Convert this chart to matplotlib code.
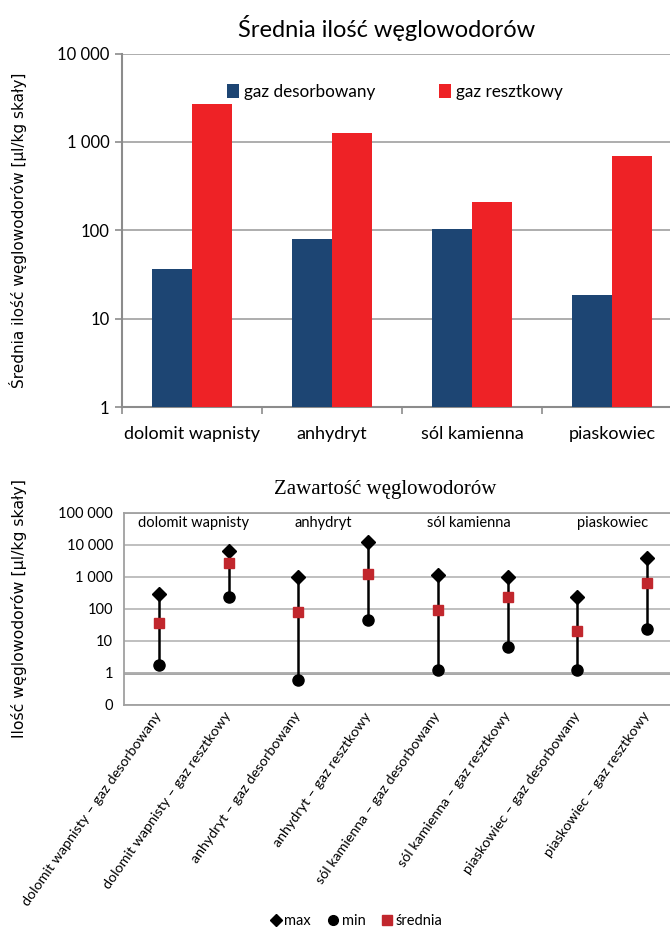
import numpy as np
import matplotlib
matplotlib.use("Agg")
import matplotlib.pyplot as plt
from matplotlib.ticker import FuncFormatter, FixedLocator, NullLocator
from matplotlib.lines import Line2D

plt.rcParams['font.family'] = ['Lato', 'DejaVu Sans']

# Dane - wykres słupkowy (średnie)
skaly = ["dolomit wapnisty", "anhydryt", "sól kamienna", "piaskowiec"]
gaz_desorbowany = [36, 80, 102, 18.3]
gaz_resztkowy = [2700, 1250, 208, 700]

# Dane - zakresy (max, min, średnia)
kategorie = [
    "dolomit wapnisty – gaz desorbowany",
    "dolomit wapnisty – gaz resztkowy",
    "anhydryt – gaz desorbowany",
    "anhydryt – gaz resztkowy",
    "sól kamienna – gaz desorbowany",
    "sól kamienna – gaz resztkowy",
    "piaskowiec – gaz desorbowany",
    "piaskowiec – gaz resztkowy",
]
wartosci_max = [290, 6700, 1000, 12300, 1150, 1000, 235, 3800]
wartosci_min = [1.8, 230, 0.59, 45, 1.2, 6.4, 1.2, 24]
wartosci_sr = [36, 2700, 80, 1250, 90, 230, 20, 660]

etykiety_grup = ["dolomit wapnisty", "anhydryt", "sól kamienna", "piaskowiec"]
pozycje_grup = [0.5, 2.35, 4.45, 6.5]

NIEBIESKI = "#1d4573"
CZERWONY = "#ee2226"
CZERWONY_SR = "#c1272d"
SZARY = "#8c8c8c"


def fmt_tys(v, pos):
    if v < 1:
        return "0"
    return f"{v:,.0f}".replace(",", " ")


fig = plt.figure(figsize=(6.7, 9.32), dpi=100)

# --- Wykres 1 ---
ax1 = fig.add_axes([122 / 670, 1 - 407 / 932, 560 / 670, 353.5 / 932])
x = np.arange(len(skaly))
w = 40 / 140
ax1.bar(x - w / 2, gaz_desorbowany, width=w, color=NIEBIESKI, label="gaz desorbowany", zorder=3)
ax1.bar(x + w / 2, gaz_resztkowy, width=w, color=CZERWONY, label="gaz resztkowy", zorder=3)
ax1.set_yscale("log")
ax1.set_ylim(1, 10000)
ax1.set_xlim(-0.5, len(skaly) - 0.5)
ax1.yaxis.set_major_locator(FixedLocator([1, 10, 100, 1000, 10000]))
ax1.yaxis.set_minor_locator(NullLocator())
ax1.yaxis.set_major_formatter(FuncFormatter(fmt_tys))
ax1.set_xticks(x)
ax1.set_xticklabels(skaly, fontsize=13)
ax1.xaxis.set_minor_locator(FixedLocator(np.arange(-0.5, len(skaly), 1)))
ax1.tick_params(axis="x", which="major", length=0, pad=14)
ax1.tick_params(axis="x", which="minor", length=5, color=SZARY, width=1.2)
ax1.tick_params(axis="y", length=5, color=SZARY, width=1.2, labelsize=12, pad=4)
ax1.grid(axis="y", color="#a0a0a0", linewidth=1.2, zorder=0)
for s in ["top", "right"]:
    ax1.spines[s].set_visible(False)
for s in ["left", "bottom"]:
    ax1.spines[s].set_color(SZARY)
    ax1.spines[s].set_linewidth(1.5)
ax1.set_ylabel("Średnia ilość węglowodorów [µl/kg skały]", family="DejaVu Sans",
               fontsize=11)
ax1.yaxis.set_label_coords((27 - 122) / 560, 0.5)
ax1.legend(loc="center", bbox_to_anchor=(0.4875, 0.891), ncol=2, frameon=False,
           fontsize=12.3, handlelength=0.7, handleheight=0.9, handletextpad=0.3,
           columnspacing=3.7)
fig.text(387 / 670, 1 - 28 / 932, "Średnia ilość węglowodorów", ha="center", va="center",
         fontsize=17)

# --- Wykres 2 ---
ax2 = fig.add_axes([124 / 670, 1 - 705 / 932, 558 / 670, 192 / 932])
xi = np.arange(len(kategorie))
ax2.vlines(xi, wartosci_min, wartosci_max, color="black", linewidth=1.8, zorder=3)
ax2.plot(xi, wartosci_max, "D", color="black", markersize=7, linestyle="none", zorder=4)
ax2.plot(xi, wartosci_min, "o", color="black", markersize=8, linestyle="none", zorder=4)
ax2.plot(xi, wartosci_sr, "s", color=CZERWONY_SR, markersize=7.5, linestyle="none", zorder=5)
ax2.set_yscale("log")
ax2.set_ylim(0.1, 100000)
ax2.set_xlim(-0.5, len(kategorie) - 0.5)
ax2.yaxis.set_major_locator(FixedLocator([0.1, 1, 10, 100, 1000, 10000, 100000]))
ax2.yaxis.set_minor_locator(NullLocator())
ax2.yaxis.set_major_formatter(FuncFormatter(fmt_tys))
ax2.tick_params(axis="y", length=0, labelsize=10.5, pad=8)
ax2.grid(axis="y", color="#b4b4b4", linewidth=1.2, zorder=0)
ax2.axhline(1, color="#8a8a8a", linewidth=1.8, zorder=1)
for s in ax2.spines.values():
    s.set_color("#a0a0a0")
    s.set_linewidth(1.3)
ax2.set_xticks(xi)
ax2.set_xticklabels(kategorie, rotation=55, ha="right", va="center",
                    rotation_mode="anchor", fontsize=10.3)
ax2.tick_params(axis="x", length=0, pad=6)
for t, p in zip(etykiety_grup, pozycje_grup):
    ax2.text(p, 50000, t, ha="center", va="center", fontsize=10.5)
ax2.set_ylabel("Ilość węglowodorów [µl/kg skały]", family="DejaVu Sans",
               fontsize=11.3)
ax2.yaxis.set_label_coords((27 - 124) / 558, 0.5)
fig.text(385 / 670, 1 - 490 / 932, "Zawartość węglowodorów", ha="center", va="center",
         fontsize=15, family="Liberation Serif")

uchwyty = [
    Line2D([], [], marker="D", color="black", linestyle="none", markersize=6),
    Line2D([], [], marker="o", color="black", linestyle="none", markersize=7),
    Line2D([], [], marker="s", color=CZERWONY_SR, linestyle="none", markersize=7),
]
fig.legend(uchwyty, ["max", "min", "średnia"], loc="center", ncol=3, frameon=False,
           bbox_to_anchor=(357 / 670, 1 - 921 / 932), fontsize=10.5,
           handlelength=0.6, handletextpad=0.3, columnspacing=1.2)

fig.savefig("out.png", dpi=100)
